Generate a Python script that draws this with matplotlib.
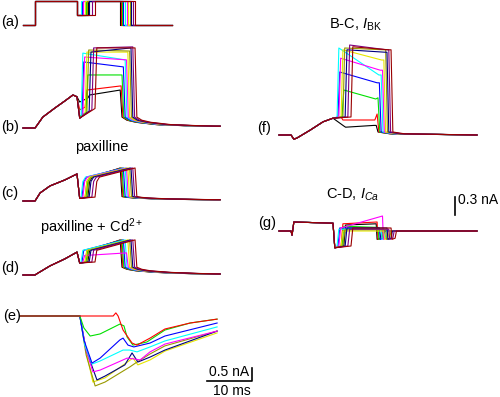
import matplotlib
matplotlib.use('agg')
import matplotlib.pyplot as plt
import numpy as np

plt.rcParams['font.family'] = ['Liberation Sans', 'DejaVu Sans']
plt.rcParams['mathtext.fontset'] = 'custom'
plt.rcParams['mathtext.rm'] = 'Liberation Sans'
plt.rcParams['mathtext.it'] = 'Liberation Sans:italic'

W, H = 500, 397

# one colour per test-pulse duration
colors = ['#000000', '#ff0000', '#00e000', '#0000ff', '#00ffff', '#ff00ff',
          '#e6e600', '#999900', '#000080', '#800080', '#990000']

# voltage protocol (ms, mV)
t_on = 2.67
t_dip = 12.0
t_prot_end = 33.1
t_end = 43.8
t_end_r = 44.0
v_hold, v_step, v_dip = -70, 50, -20
dip_end = [14.4, 13.8, 14.0, 13.1, 12.9, 13.3, 13.8, 14.2, 14.7, 15.3, 16.0]
pulse_end = [21.6, 21.8, 22.0, 22.3, 22.7, 23.0, 23.3, 23.7, 24.0, 24.4, 24.9]

# (b) control currents (nA)
ramp_t = [0, 2.67, 3.1, 4.4, 7.1, 9.3, 11.1, 12.0]
ramp_b = [0, 0, 0.1, 0.42, 0.77, 1.04, 1.27, 1.2]
dip_low_b = [1.0, 0.7, 0.45, 0.38, 0.38, 0.38, 0.38, 0.38, 0.38, 0.38, 0.38]
dip_last_b = [1.15, 0.8, 0.6, 0.45, 0.4, 0.47, 0.55, 0.6, 0.65, 0.7, 0.75]
plat0_b = [1.27, 1.46, 2.04, 2.54, 2.88, 2.73, 2.92, 3.0, 2.92, 3.08, 3.08]
plat1_b = [1.46, 1.62, 2.04, 2.35, 2.62, 2.62, 2.92, 2.96, 3.08, 3.12, 3.08]
tail_dt = [0.4, 1.5, 3.5, 8.0, 14.0, 18.5]
tail_b = [0.42, 0.3, 0.22, 0.13, 0.09, 0.07]

# (c) paxilline
ramp_c_t = [0, 2.67, 3.8, 6.0, 9.3, 12.0]
ramp_c = [0, 0, 0.31, 0.58, 0.81, 1.04]
tail_c = [0.17, 0.14, 0.11, 0.08, 0.06, 0.05]

# (d) paxilline + Cd2+
ramp_d_t = [0, 2.67, 3.1, 6.0, 9.3, 12.0]
ramp_d = [0, 0, 0.05, 0.35, 0.62, 0.88]
plat0_d = [0.95, 0.95, 0.95, 0.95, 0.95, 0.75, 0.95, 0.95, 0.95, 0.95, 0.95]
plat1_d = [1.35, 1.35, 1.35, 1.35, 1.35, 0.85, 1.35, 1.35, 1.35, 1.35, 1.35]
tail_d = [0.3, 0.22, 0.16, 0.1, 0.06, 0.04]

# (f) B-C, I_BK
ramp_f_t = [0, 2.67, 3.3, 4.0, 6.9, 9.8, 12.0]
ramp_f = [0, 0, -0.07, -0.05, 0.08, 0.22, 0.28]
dip_f = [0.15, 0.3, 0.3, 0.3, 0.3, 0.3, 0.3, 0.3, 0.3, 0.3, 0.3]
plat0_f = [0.13, 0.25, 0.75, 1.05, 1.45, 1.28, 1.42, 1.45, 1.42, 1.5, 1.47]
plat1_f = [0.16, 0.25, 0.6, 0.87, 1.0, 1.08, 1.25, 1.42, 1.38, 1.42, 1.42]
peak_f = [0.16, 0.35, 0.62, 0.87, 1.0, 1.08, 1.25, 1.42, 1.38, 1.42, 1.42]

# (g) C-D, I_Ca
ramp_g_t = [0, 2.67, 2.9, 3.3, 12.0]
ramp_g = [0, 0, -0.07, 0.15, 0.13]
plat0_g = [0.1, 0.12, 0.08, 0.05, 0.03, 0.05, 0.0, 0.02, 0.05, 0.03, 0.05]
plat1_g = [0.12, 0.15, 0.06, 0.05, 0.03, 0.25, 0.0, 0.02, 0.05, 0.03, 0.05]

# (e) expanded currents
e_colors = ['#e6e600', '#999900', '#000080', '#ff00ff', '#00ffff', '#0000ff', '#00e000', '#ff0000']
e_t = [
    [0, 13.3, 14.7, 16.2, 18.9, 25.1, 26.2, 28.9, 32.2, 43.8],
    [0, 13.3, 14.7, 16.7, 18.9, 24.4, 26.0, 28.9, 32.2, 43.8],
    [0, 13.3, 14.7, 17.1, 18.9, 23.3, 24.9, 26.2, 28.9, 32.2, 43.8],
    [0, 13.3, 14.7, 16.2, 17.8, 23.8, 25.3, 26.7, 28.9, 32.2, 43.8],
    [0, 13.3, 14.4, 16.0, 17.8, 22.9, 24.4, 26.0, 28.9, 32.2, 43.8],
    [0, 13.3, 14.2, 16.0, 17.8, 22.2, 22.9, 24.0, 25.3, 28.9, 32.2, 43.8],
    [0, 13.3, 14.2, 15.6, 17.8, 22.2, 23.1, 23.8, 25.1, 28.2, 32.2, 37.8, 43.8],
    [0, 20.7, 21.3, 21.8, 22.9, 24.9, 26.0, 28.9, 32.2, 37.8, 43.8],
]
e_i = [
    [0, 0, -1.38, -2.54, -2.38, -1.62, -1.88, -1.69, -1.35, -0.65],
    [0, 0, -1.5, -2.69, -2.54, -1.96, -1.77, -1.46, -1.15, -0.58],
    [0, 0, -1.31, -2.46, -2.31, -1.88, -1.42, -1.77, -1.58, -1.31, -0.58],
    [0, 0, -1.31, -2.15, -2.08, -1.62, -1.65, -1.69, -1.38, -1.08, -0.58],
    [0, 0, -1.12, -1.85, -1.73, -1.31, -1.31, -1.38, -1.19, -0.96, -0.42],
    [0, 0, -0.92, -1.81, -1.62, -0.92, -0.85, -1.12, -1.19, -1.04, -0.77, -0.27],
    [0, 0, -0.46, -0.77, -0.69, -0.31, -0.38, -0.81, -1.12, -1.0, -0.54, -0.27, -0.12],
    [0, 0, 0.12, 0, -0.54, -1.04, -1.12, -0.85, -0.5, -0.27, -0.12],
]

fig = plt.figure(figsize=(W / 100, H / 100), dpi=100)


def panel(x0, y0, sx, sy):
    # axes over the whole figure, origin of the data at pixel (x0, y0)
    ax = fig.add_axes([0, 0, 1, 1])
    ax.set_xlim(-x0 / sx, (W - x0) / sx)
    ax.set_ylim(-(H - y0) / sy, y0 / sy)
    ax.axis('off')
    ax.patch.set_alpha(0)
    return ax


def label(x, y, s, size=10.5, **kw):
    fig.text(x / W, 1 - y / H, s, fontsize=size, **kw)


lw = 0.8
ax_a = panel(23, 11, 4.5, 0.2)
ax_b = panel(23, 128, 4.5, 26)
ax_c = panel(23, 201, 4.5, 26)
ax_d = panel(23, 275, 4.5, 26)
ax_e = panel(20, 316, 4.5, 26)
ax_f = panel(279, 135, 4.5, 60)
ax_g = panel(279, 231, 4.5, 60)

for i, col in enumerate(colors):
    de, pe = dip_end[i], pulse_end[i]
    tails = [pe + d for d in tail_dt]

    ax_a.plot([0, t_on, t_on, t_dip, t_dip, de, de, pe, pe, t_prot_end],
              [v_hold, v_hold, v_step, v_step, v_dip, v_dip, v_step, v_step, v_hold, v_hold],
              color=col, lw=lw)

    ax_b.plot(ramp_t + [12.6, de, de + 0.4, pe] + tails + [t_end],
              ramp_b + [dip_low_b[i], dip_last_b[i], plat0_b[i], plat1_b[i]] + tail_b + [tail_b[-1]],
              color=col, lw=lw)

    ax_c.plot(ramp_c_t + [12.6, de, de + 0.4, de + 1.0, pe] + tails + [t_end],
              ramp_c + [0.1, 0.15, 0.75, 0.92, 1.27] + tail_c + [tail_c[-1]],
              color=col, lw=lw)

    ax_d.plot(ramp_d_t + [12.6, de, de + 0.4, pe] + tails + [t_end],
              ramp_d + [0.46, 0.5, plat0_d[i], plat1_d[i]] + tail_d + [tail_d[-1]],
              color=col, lw=lw)

    ax_f.plot(ramp_f_t + [de, de + 0.4, pe - 0.5, pe, pe + 0.4, pe + 3.0, t_end_r],
              ramp_f + [dip_f[i], plat0_f[i], plat1_f[i], peak_f[i], 0.05, 0.02, 0],
              color=col, lw=lw)

    ax_g.plot(ramp_g_t + [12.4, de, de + 0.4, pe, pe + 0.2, pe + 0.9, pe + 1.2, t_end_r],
              ramp_g + [-0.28, -0.25, plat0_g[i], plat1_g[i], -0.14, -0.12, 0, 0],
              color=col, lw=lw)

for t, cur, col in zip(e_t, e_i, e_colors):
    ax_e.plot(t, cur, color=col, lw=lw)

# scale bars
ax_e.plot([41.6, 51.6, 51.6], [-2.5, -2.5, -2.0], color='black', lw=1.2)
ax_g.plot([39.1, 39.1], [0.27, 0.57], color='black', lw=1.2)

# panel letters and titles
for x, y, s in [(1, 22, '(a)'), (1, 127, '(b)'), (1, 193, '(c)'), (1, 268, '(d)'),
                (3, 316, '(e)'), (257, 128, '(f)'), (258, 223, '(g)')]:
    label(x, y, s, ha='left', va='center')

label(102, 151, 'paxilline', ha='center', va='baseline')
label(92, 232, 'paxilline + Cd$^{2+}$', ha='center', va='baseline')
label(355, 29, 'B-C, $I_{\\rm BK}$', ha='center', va='baseline')
label(352, 199, 'C-D, $I_{Ca}$', ha='center', va='baseline')
label(458, 204, '0.3 nA', size=10, ha='left', va='baseline')
label(249, 376, '0.5 nA', size=10, ha='right', va='baseline')
label(232, 395, '10 ms', size=10, ha='center', va='baseline')

fig.savefig('out.png', dpi=100)
